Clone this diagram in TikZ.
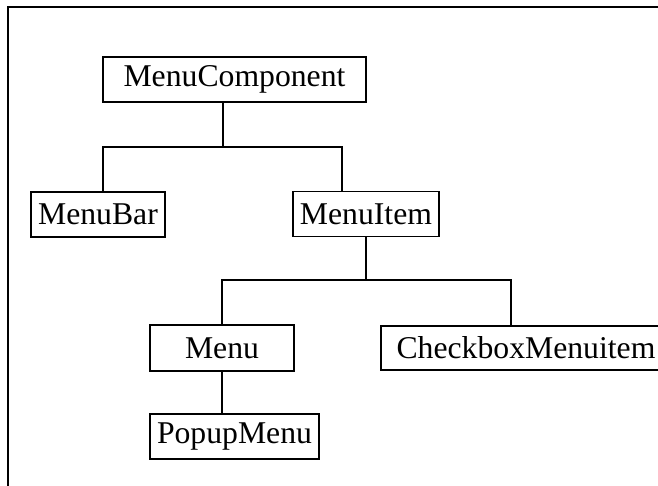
\documentclass[tikz,border=0pt]{standalone}
\usepackage{fontspec}
\setmainfont{Liberation Serif}
\usetikzlibrary{positioning}

\begin{document}
\begin{tikzpicture}[x=1pt,y=-1pt,line width=1.2pt,
  cls/.style={draw,rectangle,inner sep=0pt,outer sep=0pt,minimum height=45pt,
    font=\fontsize{31.7}{36}\selectfont},
  frame/.style={line width=2pt}]

  \useasboundingbox (0,0) rectangle (658,485);

  % class boxes
  \node[cls,minimum width=263pt] (comp) at (234.5,79.5) {MenuComponent};
  \node[cls,minimum width=134pt] (bar) at (98,214.5) {MenuBar};
  \node[cls,minimum width=146pt] (item) at (366,214) {MenuItem};
  \node[cls,minimum width=144pt,minimum height=46pt] (menu) at (222,348) {Menu};
  \node[cls,minimum width=169pt] (popup) at (234.5,436.5) {PopupMenu};
  \node[cls,anchor=west,minimum width=290pt,minimum height=44pt] (check) at (381,348) {CheckboxMenuitem};

  % junctions of the tree
  \coordinate (j1) at (223,147);
  \coordinate (j1l) at (103,147);
  \coordinate (j1r) at (342,147);
  \coordinate (j2) at (366,280);
  \coordinate (j2l) at (222,280);
  \coordinate (j2r) at (511,280);

  \draw (comp.south -| j1) -- (j1);
  \draw (bar.north -| j1l) -- (j1l) -- (j1r) -- (item.north -| j1r);
  \draw (item.south -| j2) -- (j2);
  \draw (menu.north -| j2l) -- (j2l) -- (j2r) -- (check.north -| j2r);
  \draw (menu.south) -- (popup.north -| menu.south);

  % outer frame, cut off on the right and bottom
  \draw[frame] (8,495) |- (670,7);
\end{tikzpicture}
\end{document}
